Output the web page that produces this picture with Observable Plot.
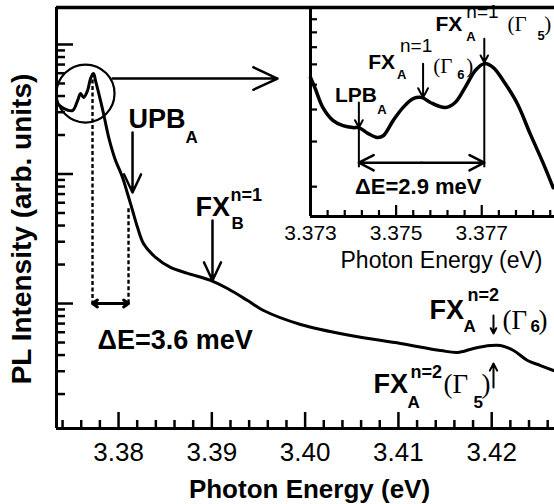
<!DOCTYPE html>
<html><head><meta charset="utf-8">
<script src="https://cdn.jsdelivr.net/npm/d3@7"></script>
<script src="https://cdn.jsdelivr.net/npm/@observablehq/plot@0.6"></script>
<style>
body{margin:0;background:#fff;}
#wrap{position:relative;width:554px;height:504px;overflow:hidden;}
#wrap svg{position:absolute;top:0;}
</style></head><body><div id="wrap"></div>
<script>
// ---- main spectrum ----
const mainEnergy = [3.37346,3.37411,3.37507,3.37561,3.37593,3.37625,3.37668,3.37700,3.37732,3.37753,3.37807,3.37839,3.37900,3.37968,3.38000,3.38043,3.38096,3.38150,3.38204,3.38268,3.38397,3.38557,3.38740,3.38986,3.39168,3.39383,3.39554,3.39951,3.40487,3.41022,3.41451,3.41633,3.41805,3.41987,3.42094,3.42234,3.42384,3.42523,3.42662];
const mainIntensity = [350,321,309,369,418,390,441,546,597,527,369,293,185,127,112,94,70.7,52.3,38.6,29.0,22.7,19.0,17.1,15.1,13.05,10.55,8.83,6.89,5.66,4.91,4.34,4.19,4.5,4.74,4.74,4.34,3.63,3.32,3.04];
// ---- inset spectrum ----
const insetEnergy = [3.37300,3.37311,3.37329,3.37353,3.37376,3.37399,3.37413,3.37435,3.37456,3.37470,3.37493,3.37516,3.37540,3.37561,3.37580,3.37615,3.37638,3.37661,3.37685,3.37706,3.37727,3.37750,3.37783,3.37813,3.37844,3.37867];
const insetIntensity = [5.33,4.83,4.07,3.62,3.46,3.40,3.40,3.22,3.11,3.16,3.62,4.07,4.41,4.45,4.26,4.07,4.26,4.87,5.68,6.04,5.83,5.19,4.22,3.22,2.46,1.98];

// ---- ticks ----
const mainMajorTicks = [3.38,3.39,3.40,3.41,3.42];
const mainMinorTicks = [3.374,3.376,3.378,3.382,3.384,3.386,3.388,3.392,3.394,3.396,3.398,3.402,3.404,3.406,3.408,3.412,3.414,3.416,3.418,3.422,3.424,3.426];
const mainYMajor = [10,100,1000];
const mainYMinor = [2,3,4,5,6,7,8,9,20,30,40,50,60,70,80,90,200,300,400,500,600,700,800,900];
const insetMajorTicks = [3.373,3.375,3.377];
const insetMinorTicks = [3.3734,3.3738,3.3742,3.3746,3.3754,3.3758,3.3762,3.3766,3.3774,3.3778,3.3782,3.3786];
const insetYTicks = [2,3,4,5,6,7,8,9];

// ---- main annotations ----
const mainLabels = [{E:3.38107,I:224.6,text:"UPB"},{E:3.38825,I:47.8,text:"FX"},{E:3.37775,I:4.49,text:"ΔE=3.6 meV"},{E:3.41333,I:7.66,text:"FX"},{E:3.40733,I:2.02,text:"FX"}];
const mainSup = [{E:3.3920,I:62.4,text:"n=1"},{E:3.41741,I:10.55,text:"n=2"},{E:3.41130,I:2.68,text:"n=2"}];
const mainSub = [{E:3.38718,I:172,text:"A"},{E:3.39211,I:37.3,text:"B"},{E:3.41698,I:6.08,text:"A"},{E:3.41098,I:1.55,text:"A"},{E:3.42416,I:6.08,text:"6"},{E:3.41805,I:1.55,text:"5"}];
const mainGamma = [{E:3.42116,I:6.41,text:"(Γ"},{E:3.42502,I:6.41,text:")"},{E:3.41483,I:2.02,text:"(Γ"},{E:3.41891,I:2.02,text:")"}];
const mainBigArrows = [{E1:3.37936,I1:546,E2:3.39704,I2:546},{E1:3.3815,I1:209,E2:3.3815,I2:71.9},{E1:3.39007,I1:43.7,E2:3.39007,I2:15.05}];
const mainSmallArrows = [{E1:3.42019,I1:8.08,E2:3.42019,I2:5.87},{E1:3.42019,I1:2.25,E2:3.42019,I2:3.44}];
const mainDelta = [{E1:3.37914,E2:3.37721,I:10},{E1:3.37914,E2:3.38107,I:10}];
const mainDashed = [{E:3.37721,top:597,bottom:10},{E:3.38107,top:54,bottom:10}];
const mainCircle = [{E:3.37646,I:418}];

// ---- inset annotations ----
const insetLabels = [{E:3.37357,I:4.26,text:"LPB"},{E:3.37435,I:5.78,text:"FX"},{E:3.37592,I:8.13,text:"FX"}];
const insetDeltaLabel = [{E:3.37404,I:1.877,text:"ΔE=2.9 meV"}];
const insetSup = [{E:3.37509,I:6.73,text:"n=1"},{E:3.37664,I:9.14,text:"n=1"}];
const insetSub = [{E:3.37456,I:3.85,text:"A"},{E:3.37502,I:5.28,text:"A"},{E:3.37664,I:7.37,text:"A"},{E:3.37643,I:5.28,text:"6"},{E:3.37830,I:7.49,text:"5"}];
const insetGamma = [{E:3.37587,I:5.57,text:"(Γ"},{E:3.37664,I:5.57,text:")"},{E:3.37760,I:8.13,text:"(Γ"},{E:3.37846,I:8.13,text:")"}];
const insetArrows = [{E1:3.37413,I1:4.26,E2:3.37413,I2:3.40},{E1:3.37563,I1:6.04,E2:3.37563,I2:4.45},{E1:3.37706,I1:7.56,E2:3.37706,I2:6.10}];
const insetRules = [{E:3.37413,top:3.40,bottom:2.37},{E:3.37706,top:6.04,bottom:2.37}];
const insetDelta = [{E1:3.375595,E2:3.37413,I:2.48},{E1:3.375595,E2:3.37706,I:2.48}];

const SANS = "'Liberation Sans', Arial, Helvetica, sans-serif";
const SERIF = "'Liberation Serif', 'Times New Roman', serif";
const mainData = mainEnergy.map((E,i)=>({E, I: mainIntensity[i]}));
const insetData = insetEnergy.map((E,i)=>({E, I: insetIntensity[i]}));
const mainX = [3.37335,3.42673], mainY = [1.084,1930];
const insetX = [3.373,3.37870], insetY = [1.53,10];

const M = {w:554, h:504, l:56, r:0, t:7, b:76};
const MW = M.w - M.l - M.r, MH = M.h - M.t - M.b;
const N = {w:276, h:280, l:32, r:0, t:7, b:64};
const NW = N.w - N.l - N.r, NH = N.h - N.t - N.b;

const main = Plot.plot({
  width:M.w, height:M.h, marginLeft:M.l, marginRight:M.r, marginTop:M.t, marginBottom:M.b,
  style:{fontFamily:SANS, background:"transparent"},
  x:{domain:mainX, axis:null},
  y:{type:"log", domain:mainY, axis:null},
  marks:[
    Plot.tickX(mainMajorTicks, {x:d=>d, insetTop:MH-16, stroke:"black", strokeWidth:2.5}),
    Plot.tickX(mainMinorTicks, {x:d=>d, insetTop:MH-8, stroke:"black", strokeWidth:2.5}),
    Plot.tickY(mainYMajor, {y:d=>d, insetRight:MW-17, stroke:"black", strokeWidth:2.5}),
    Plot.tickY(mainYMinor, {y:d=>d, insetRight:MW-9, stroke:"black", strokeWidth:2.5}),
    Plot.ruleX([mainX[0]], {strokeWidth:3}),
    Plot.ruleY([mainY[0]], {strokeWidth:3}),
    Plot.ruleY([mainY[1]], {strokeWidth:3.5}),
    Plot.axisX(mainMajorTicks, {tickSize:0, tickPadding:14, tickFormat:d3.format(".2f"), label:null, fontSize:26}),
    Plot.text(["Photon Energy (eV)"], {frameAnchor:"bottom", textAnchor:"middle", dx:4, dy:69, lineAnchor:"bottom", fontSize:26, fontWeight:"bold"}),
    Plot.text(["PL Intensity (arb. units)"], {frameAnchor:"left", textAnchor:"middle", lineAnchor:"middle", rotate:-90, dx:-34, dy:11, fontSize:28, fontWeight:"bold"}),
    Plot.ruleX(mainDashed, {x:"E", y1:"top", y2:"bottom", strokeWidth:2.4, strokeDasharray:"4,2.5"}),
    Plot.line(mainData, {x:"E", y:"I", curve:"catmull-rom", strokeWidth:3}),
    Plot.dot(mainCircle, {x:"E", y:"I", r:29, stroke:"black", strokeWidth:2.2, fill:"none"}),
    Plot.arrow(mainBigArrows, {x1:"E1", y1:"I1", x2:"E2", y2:"I2", strokeWidth:2.5, headLength:16, headAngle:50}),
    Plot.arrow(mainSmallArrows, {x1:"E1", y1:"I1", x2:"E2", y2:"I2", strokeWidth:2, headLength:8, headAngle:55}),
    Plot.arrow(mainDelta, {x1:"E1", y1:"I", x2:"E2", y2:"I", strokeWidth:3, headLength:9, headAngle:70}),
    Plot.text(mainLabels, {x:"E", y:"I", text:"text", textAnchor:"start", lineAnchor:"bottom", fontSize:27, fontWeight:"bold"}),
    Plot.text(mainSup, {x:"E", y:"I", text:"text", textAnchor:"start", lineAnchor:"bottom", fontSize:18, fontWeight:"bold"}),
    Plot.text(mainSub, {x:"E", y:"I", text:"text", textAnchor:"start", lineAnchor:"bottom", fontSize:17, fontWeight:"bold"}),
    Plot.text(mainGamma, {x:"E", y:"I", text:"text", textAnchor:"start", lineAnchor:"bottom", fontSize:27, fontFamily:SERIF})
  ]
});
main.style.left = "0px";

const inset = Plot.plot({
  width:N.w, height:N.h, marginLeft:N.l, marginRight:N.r, marginTop:N.t, marginBottom:N.b,
  style:{fontFamily:SANS, background:"transparent"},
  x:{domain:insetX, axis:null},
  y:{type:"log", domain:insetY, axis:null},
  marks:[
    Plot.tickX(insetMajorTicks, {x:d=>d, insetTop:NH-11, stroke:"black", strokeWidth:2.2}),
    Plot.tickX(insetMinorTicks, {x:d=>d, insetTop:NH-6, stroke:"black", strokeWidth:2.2}),
    Plot.tickY(insetYTicks, {y:d=>d, insetRight:NW-7, stroke:"black", strokeWidth:2.2}),
    Plot.ruleX([insetX[0]], {strokeWidth:3}),
    Plot.ruleY([insetY[0]], {strokeWidth:3}),
    Plot.axisX(insetMajorTicks, {tickSize:0, tickPadding:9, tickFormat:d3.format(".3f"), label:null, fontSize:21}),
    Plot.text(["Photon Energy (eV)"], {frameAnchor:"bottom", textAnchor:"middle", dx:9, dy:51, lineAnchor:"bottom", fontSize:23}),
    Plot.ruleX(insetRules, {x:"E", y1:"top", y2:"bottom", strokeWidth:2}),
    Plot.line(insetData, {x:"E", y:"I", curve:"catmull-rom", strokeWidth:3.5}),
    Plot.arrow(insetArrows, {x1:"E1", y1:"I1", x2:"E2", y2:"I2", strokeWidth:2, headLength:8, headAngle:55}),
    Plot.arrow(insetDelta, {x1:"E1", y1:"I", x2:"E2", y2:"I", strokeWidth:2.5, headLength:10, headAngle:55}),
    Plot.text(insetLabels, {x:"E", y:"I", text:"text", textAnchor:"start", lineAnchor:"bottom", fontSize:21, fontWeight:"bold"}),
    Plot.text(insetDeltaLabel, {x:"E", y:"I", text:"text", textAnchor:"start", lineAnchor:"bottom", fontSize:22, fontWeight:"bold"}),
    Plot.text(insetSup, {x:"E", y:"I", text:"text", textAnchor:"start", lineAnchor:"bottom", fontSize:19}),
    Plot.text(insetSub, {x:"E", y:"I", text:"text", textAnchor:"start", lineAnchor:"bottom", fontSize:13, fontWeight:"bold"}),
    Plot.text(insetGamma, {x:"E", y:"I", text:"text", textAnchor:"start", lineAnchor:"bottom", fontSize:21, fontFamily:SERIF})
  ]
});
inset.style.left = "278px";

const wrap = document.getElementById("wrap");
wrap.appendChild(main);
wrap.appendChild(inset);
</script></body></html>
